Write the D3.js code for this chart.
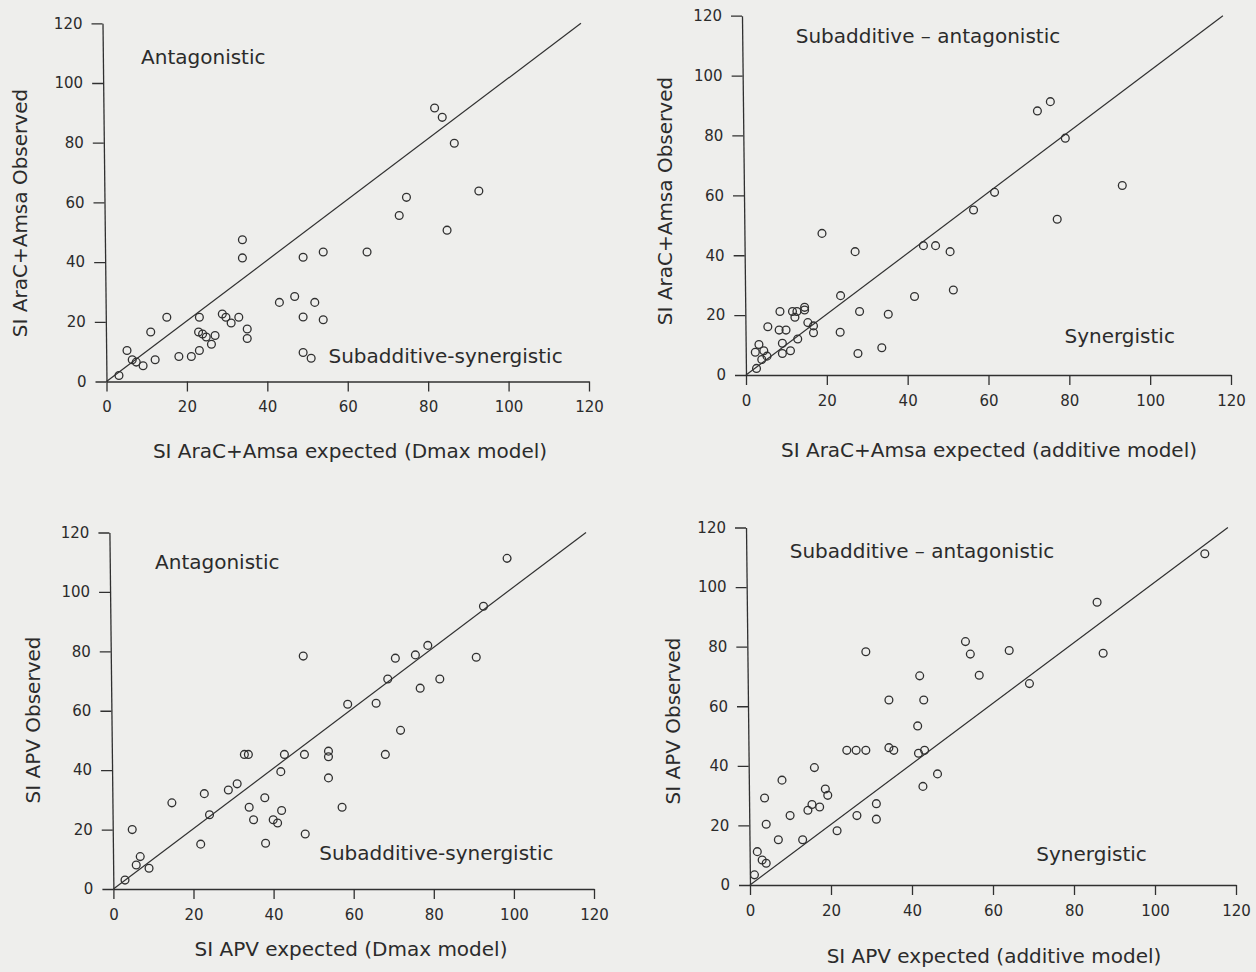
<!DOCTYPE html>
<html>
<head>
<meta charset="utf-8">
<script src="https://cdn.jsdelivr.net/npm/d3@7"></script>
<style>
    body { margin: 0; background: #eeeeec; }
    svg { display: block; font-family: "DejaVu Sans", sans-serif; }
    .axis path, .axis line { stroke: #303030; stroke-width: 1.3; }
    .axis text { font-family: "DejaVu Sans", sans-serif; font-size: 15px; fill: #2b2b2b; }
    .point { fill: none; stroke: #303030; stroke-width: 1.3; }
    .identity { stroke: #303030; stroke-width: 1.2; fill: none; }
    .note, .axis-label { font-size: 20px; fill: #2b2b2b; }
</style>
</head>
<body>
<div id="chart"></div>
<script>
// shared tick values for both axes of every panel
const tickValues = [0, 20, 40, 60, 80, 100, 120];
const identityLine = [[0, 0], [118, 120]];

// SI AraC+Amsa: expected (Dmax model) vs observed
const araDmax = [
    [3.1, 2.0], [5.1, 10.4], [6.4, 7.3], [7.4, 6.5], [9.1, 5.3], [11.0, 16.6],
    [12.1, 7.3], [15.0, 21.5], [18.0, 8.4], [21.1, 8.4], [23.1, 21.5], [23.1, 10.4],
    [22.9, 16.6], [23.9, 15.9], [24.8, 14.9], [26.1, 12.5], [27.0, 15.4], [28.8, 22.6],
    [29.7, 21.5], [31.0, 19.6], [32.9, 21.5], [35.0, 17.6], [35.0, 14.4], [33.8, 47.5],
    [33.8, 41.4], [43.0, 26.5], [46.8, 28.5], [48.9, 41.6], [48.9, 21.6], [51.8, 26.5],
    [53.9, 20.7], [53.9, 43.4], [48.9, 9.7], [50.9, 7.8], [64.8, 43.4], [72.8, 55.6],
    [74.6, 61.7], [84.7, 50.7], [92.6, 63.8], [86.5, 79.8], [81.6, 91.6], [83.5, 88.5]
];

// SI AraC+Amsa: expected (additive model) vs observed
const araAdditive = [
    [2.6, 2.2], [2.3, 7.6], [3.2, 10.2], [4.4, 8.1], [3.9, 5.2], [5.2, 6.3],
    [5.4, 16.1], [8.4, 21.2], [8.2, 15.0], [9.9, 15.0], [9.0, 10.6], [9.0, 7.2],
    [11.0, 8.1], [11.5, 21.2], [12.1, 19.3], [12.8, 12.0], [12.6, 21.2], [14.5, 21.7],
    [14.5, 22.6], [15.3, 17.5], [16.7, 16.4], [16.7, 14.1], [18.8, 47.3], [23.4, 26.5],
    [23.3, 14.3], [27.0, 41.2], [28.1, 21.2], [27.7, 7.2], [33.6, 9.1], [35.2, 20.3],
    [41.7, 26.2], [43.9, 43.2], [46.9, 43.2], [50.5, 41.2], [51.3, 28.4], [56.3, 55.1],
    [61.5, 61.0], [72.1, 88.2], [75.3, 91.3], [79.0, 79.1], [77.0, 52.0], [93.1, 63.3]
];

// SI APV: expected (Dmax model) vs observed
const apvDmax = [
    [2.9, 3.0], [5.7, 8.1], [6.7, 10.9], [8.9, 7.0], [4.7, 20.0], [14.6, 29.0],
    [21.8, 15.1], [22.7, 32.1], [24.0, 25.0], [28.7, 33.3], [30.9, 35.4], [32.7, 45.3],
    [33.7, 45.3], [33.9, 27.5], [35.0, 23.3], [37.8, 30.7], [38.0, 15.4], [39.9, 23.3],
    [41.0, 22.2], [42.0, 26.4], [41.8, 39.5], [42.7, 45.3], [47.7, 45.3], [47.4, 78.4],
    [47.9, 18.5], [53.7, 46.4], [53.7, 44.5], [53.7, 37.4], [57.1, 27.5], [58.5, 62.2],
    [65.6, 62.5], [67.9, 45.3], [68.5, 70.7], [70.4, 77.7], [71.7, 53.4], [75.4, 78.8],
    [76.6, 67.6], [78.5, 82.0], [81.5, 70.7], [90.6, 78.0], [92.4, 95.2], [98.3, 111.3]
];

// SI APV: expected (additive model) vs observed
const apvAdditive = [
    [1.1, 3.4], [1.8, 11.2], [3.0, 8.4], [4.0, 7.3], [4.0, 20.4], [3.6, 29.2],
    [7.9, 35.2], [7.0, 15.2], [9.9, 23.3], [13.0, 15.2], [14.3, 25.1], [15.3, 27.0],
    [15.9, 39.4], [17.2, 26.2], [18.6, 32.2], [19.2, 30.1], [21.5, 18.2], [23.9, 45.2],
    [26.2, 45.2], [28.6, 45.2], [28.6, 78.3], [26.4, 23.3], [31.2, 27.3], [31.2, 22.1],
    [34.3, 62.1], [34.3, 46.1], [35.5, 45.2], [41.4, 53.4], [41.9, 70.2], [41.6, 44.2],
    [43.1, 45.2], [42.9, 62.1], [42.7, 33.1], [46.3, 37.3], [53.2, 81.7], [54.4, 77.5],
    [56.6, 70.4], [64.0, 78.7], [69.0, 67.6], [85.7, 94.9], [87.2, 77.8], [112.3, 111.2]
];

const panels = [
    {
        points: araDmax,
        box: { left: 106.5, right: 589, top: 23.3, bottom: 381.5 },
        xLabel: 'SI AraC+Amsa expected (Dmax model)', xLabelAt: [350, 458],
        yLabel: 'SI AraC+Amsa Observed', yLabelAt: [27, 213],
        notes: [
            { text: 'Antagonistic', at: [8.6, 106.5] },
            { text: 'Subadditive-synergistic', at: [55.2, 6.3] }
        ]
    },
    {
        points: araAdditive,
        box: { left: 746, right: 1231, top: 15.7, bottom: 375 },
        xLabel: 'SI AraC+Amsa expected (additive model)', xLabelAt: [989, 457],
        yLabel: 'SI AraC+Amsa Observed', yLabelAt: [672, 201],
        notes: [
            { text: 'Subadditive \u2013 antagonistic', at: [12.3, 110.8] },
            { text: 'Synergistic', at: [78.8, 10.6] }
        ]
    },
    {
        points: apvDmax,
        box: { left: 113.4, right: 594, top: 532.5, bottom: 889 },
        xLabel: 'SI APV expected (Dmax model)', xLabelAt: [351, 956],
        yLabel: 'SI APV Observed', yLabelAt: [40, 720],
        notes: [
            { text: 'Antagonistic', at: [10.4, 107.6] },
            { text: 'Subadditive-synergistic', at: [51.4, 9.8] }
        ]
    },
    {
        points: apvAdditive,
        box: { left: 750, right: 1236, top: 527.5, bottom: 885 },
        xLabel: 'SI APV expected (additive model)', xLabelAt: [994, 963],
        yLabel: 'SI APV Observed', yLabelAt: [680, 721],
        notes: [
            { text: 'Subadditive \u2013 antagonistic', at: [9.8, 109.6] },
            { text: 'Synergistic', at: [70.7, 8.1] }
        ]
    }
];

const width = 1256;
const height = 972;
// the scanned y axes lean left by ~4px over their height
const lean = 0.0112;

const svg = d3.select('#chart')
    .append('svg')
    .attr('width', width)
    .attr('height', height);

panels.forEach(panel => {
    const { box } = panel;

    const xScale = d3.scaleLinear().domain([0, 120]).range([box.left, box.right]);
    const yScale = d3.scaleLinear().domain([0, 120]).range([box.bottom, box.top]);

    const g = svg.append('g');

    // axes
    g.append('g')
        .attr('class', 'axis')
        .attr('transform', `translate(0, ${box.bottom})`)
        .call(d3.axisBottom(xScale).tickValues(tickValues).tickSize(10).tickSizeOuter(0).tickPadding(10));

    const yAxis = g.append('g')
        .attr('class', 'axis')
        .attr('transform', `matrix(1, 0, ${lean}, 1, ${box.left - lean * box.bottom}, 0)`)
        .call(d3.axisLeft(yScale).tickValues(tickValues).tickSize(11).tickSizeOuter(0).tickPadding(9));
    // keep the tick numbers upright while following the lean
    yAxis.selectAll('.tick text')
        .attr('transform', `matrix(1, 0, ${-lean}, 1, 0, 0)`);

    // line of identity
    g.append('path')
        .attr('class', 'identity')
        .attr('d', d3.line().x(d => xScale(d[0])).y(d => yScale(d[1]))(identityLine));

    // observations
    g.selectAll('circle')
        .data(panel.points)
        .enter()
        .append('circle')
        .attr('class', 'point')
        .attr('cx', d => xScale(d[0]))
        .attr('cy', d => yScale(d[1]))
        .attr('r', 3.9);

    // region notes
    panel.notes.forEach(n => {
        g.append('text')
            .attr('class', 'note')
            .attr('x', xScale(n.at[0]))
            .attr('y', yScale(n.at[1]))
            .text(n.text);
    });

    // axis titles
    g.append('text')
        .attr('class', 'axis-label')
        .attr('x', panel.xLabelAt[0])
        .attr('y', panel.xLabelAt[1])
        .style('text-anchor', 'middle')
        .text(panel.xLabel);

    g.append('text')
        .attr('class', 'axis-label')
        .attr('transform', `translate(${panel.yLabelAt[0]}, ${panel.yLabelAt[1]}) rotate(-90)`)
        .style('text-anchor', 'middle')
        .text(panel.yLabel);
});
</script>
</body>
</html>
